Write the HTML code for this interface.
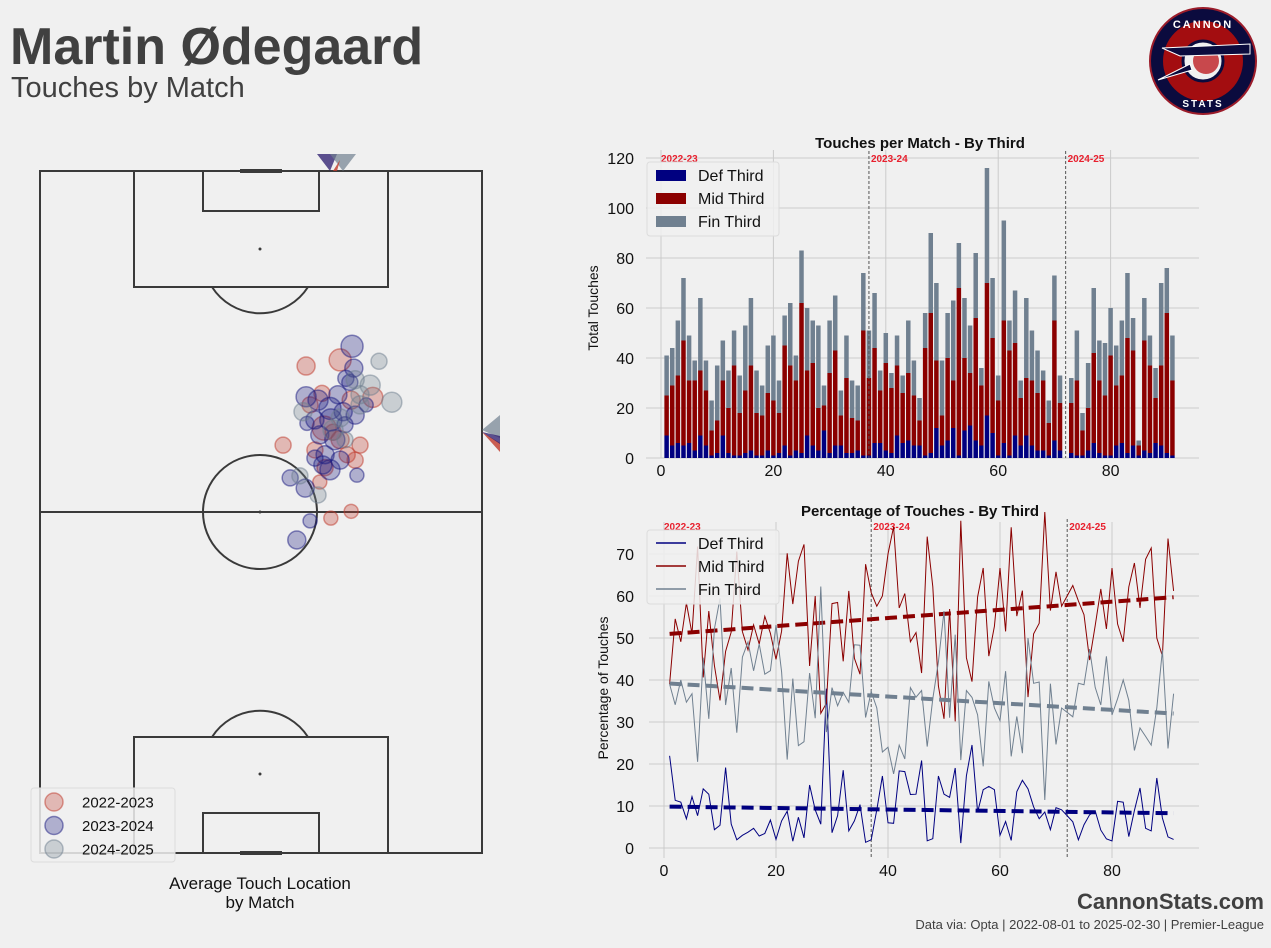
<!DOCTYPE html>
<html><head><meta charset="utf-8">
<style>
html,body{margin:0;padding:0;background:#f0f0f0;}
svg{display:block;font-family:"Liberation Sans","DejaVu Sans",sans-serif;}
</style></head>
<body>
<svg id="fig" width="1271" height="948" viewBox="0 0 1271 948" xmlns="http://www.w3.org/2000/svg">
<rect x="0" y="0" width="1271" height="948" fill="#f0f0f0"/>
<text x="10" y="64" font-size="52" font-weight="bold" fill="#404040">Martin Ødegaard</text>
<text x="11" y="97" font-size="29" fill="#404040">Touches by Match</text>
<g>
<circle cx="1203" cy="61" r="53" fill="#0b0b3e" stroke="#9b1c2a" stroke-width="2"/>
<circle cx="1203" cy="61" r="40" fill="#a30d10"/>
<circle cx="1203" cy="61" r="20" fill="#f0f0f0" stroke="#0b0b3e" stroke-width="3"/>
<circle cx="1206" cy="61" r="13" fill="#c8484c"/>
<path d="M1162 48 L1250 44 L1250 54 L1180 56 Z" fill="#0b0b3e" stroke="#fff" stroke-width="1"/>
<path d="M1158 80 L1190 64 L1192 70 Z" fill="#0b0b3e" stroke="#fff" stroke-width="1"/>
<text x="1203" y="28" font-size="11" font-weight="bold" fill="#fff" text-anchor="middle" letter-spacing="2">CANNON</text>
<text x="1203" y="107" font-size="10" font-weight="bold" fill="#fff" text-anchor="middle" letter-spacing="2">STATS</text>
</g>
<g id="pitch"></g>
<g id="bars"></g>
<g id="pct"></g>
<text x="260" y="889" font-size="17" fill="#111" text-anchor="middle">Average Touch Location</text>
<text x="260" y="908" font-size="17" fill="#111" text-anchor="middle">by Match</text>
<text x="1264" y="909" font-size="22" font-weight="bold" fill="#404040" text-anchor="end">CannonStats.com</text>
<text x="1264" y="929" font-size="13" fill="#404040" text-anchor="end">Data via: Opta | 2022-08-01 to 2025-02-30 | Premier-League</text>
</svg>
<script>
// ---- data ----
const matches=[1,2,3,4,5,6,7,8,9,10,11,12,13,14,15,16,17,18,19,20,21,22,23,24,25,26,27,28,29,30,31,32,33,34,35,36,37,38,39,40,41,42,43,44,45,46,47,48,49,50,51,52,53,54,55,56,57,58,59,60,61,62,63,64,65,66,67,68,69,70,71,73,74,75,76,77,78,79,80,81,82,83,84,85,86,87,88,89,90,91];
const defT=[9,5,6,5,6,3,9,5,1,2,9,2,1,1,2,3,1,1,3,1,2,5,1,3,2,9,5,3,11,2,5,5,2,2,3,1,1,6,6,3,2,9,6,7,5,5,1,2,12,5,7,12,1,11,13,7,5,17,10,1,6,1,9,5,9,5,3,3,1,7,3,2,1,1,3,6,2,1,1,5,6,2,5,1,3,2,6,5,2,1];
const midT=[16,24,27,42,25,28,26,22,10,13,22,18,36,17,25,34,17,16,23,22,16,40,36,28,60,26,33,17,10,32,38,12,30,14,12,50,31,38,21,35,26,28,20,27,20,10,43,56,27,12,33,19,67,29,21,49,24,53,38,22,49,42,37,19,23,26,23,28,13,48,19,20,30,10,17,36,29,24,40,24,27,46,38,4,44,35,18,32,56,30];
const finT=[16,15,22,25,18,8,29,12,12,22,16,15,14,15,26,27,17,12,19,26,13,12,25,10,21,25,17,33,8,21,22,10,17,15,14,23,19,22,8,12,6,12,7,21,14,9,14,32,31,22,18,32,18,24,19,26,7,46,24,10,40,12,21,7,32,20,17,4,9,18,11,10,20,7,18,26,16,21,19,16,22,26,13,2,17,12,12,33,18,18];
const seasonBreaks=[37,72];
const seasonLabels=["2022-23","2023-24","2024-25"];
const barTicksY=[0,20,40,60,80,100,120];
const xTicks=[0,20,40,60,80];
const pctTicksY=[0,10,20,30,40,50,60,70];
const s22x=[60.2,67.9,63.8,75.3,55.0,66.3,72.4,69.5,71.3,64.5,63.3,65.8,70.4,64.3,67.9,62.2,61.1,70.4];
const s22y=[71.4,72.3,67.4,66.8,59.8,61.7,59.8,58.4,57.6,56.5,54.4,49.1,50.1,62.3,60.6,59.1,65.7,66.4];
const s22r=[9,11,8,10,8,8,8,8,8,8,7,7,7,12,9,8,8,9];
const s23x=[70.6,71.0,60.2,62.9,69.2,70.1,65.6,68.6,71.3,60.4,63.3,66.7,64.5,67.9,64.0,71.7,56.6,60.0,58.1,61.1,65.8,62.2,69.0,65.6,62.2,73.8,67.4];
const s23y=[74.3,71.1,66.9,66.4,69.6,69.0,65.2,64.7,64.2,63.0,61.3,60.6,58.4,57.6,56.9,55.4,55.0,53.5,45.9,48.7,63.5,63.5,62.8,56.2,57.9,65.7,67.2];
const s23r=[11,9,10,10,8,8,11,9,9,7,9,10,9,9,9,7,8,9,9,7,11,9,8,10,8,7,9];
const s24x=[76.7,74.7,79.6,71.3,72.4,66.3,67.9,59.5,62.9,72.4,69.0,58.8];
const s24y=[72.1,68.6,66.1,69.4,67.2,62.0,63.8,64.7,52.5,65.7,60.6,55.3];
const s24r=[8,10,10,9,9,10,9,9,8,9,8,8];

const NS="http://www.w3.org/2000/svg";
function mk(parent,tag,attrs){const e=document.createElementNS(NS,tag);for(const k in attrs)e.setAttribute(k,attrs[k]);parent.appendChild(e);return e;}

// ---- pitch ----
const P=document.getElementById('pitch');
const px=x=>40+x*4.42, py=y=>853-y*6.82;
const st={fill:'none',stroke:'#3a3a3a','stroke-width':2};
let e;
e=mk(P,'rect',Object.assign({x:40,y:171,width:442,height:682},st));
e=mk(P,'line',Object.assign({x1:40,y1:512,x2:482,y2:512},st));
e=mk(P,'circle',Object.assign({cx:260,cy:512,r:57},st));
mk(P,'circle',{cx:260,cy:512,r:1.5,fill:'#3a3a3a'});
e=mk(P,'rect',Object.assign({x:134,y:171,width:254,height:116},st));
mk(P,'rect',Object.assign({x:203,y:171,width:116,height:40},st));
mk(P,'path',Object.assign({d:'M212 287 A57 57 0 0 0 308 287'},st));
mk(P,'circle',{cx:260,cy:249,r:1.5,fill:'#3a3a3a'});
e=mk(P,'rect',Object.assign({x:134,y:737,width:254,height:116},st));
mk(P,'rect',Object.assign({x:203,y:813,width:116,height:40},st));
mk(P,'path',Object.assign({d:'M212 737 A57 57 0 0 1 308 737'},st));
mk(P,'circle',{cx:260,cy:774,r:1.5,fill:'#3a3a3a'});
mk(P,'line',{x1:240,y1:171,x2:282,y2:171,stroke:'#3a3a3a','stroke-width':4});
mk(P,'line',{x1:240,y1:853,x2:282,y2:853,stroke:'#3a3a3a','stroke-width':4});
mk(P,'polygon',{points:'317,154 337,154 330,171',fill:'#2a1a6e','fill-opacity':0.75});
mk(P,'polygon',{points:'330,154 356,154 343,171',fill:'#708090','fill-opacity':0.7});
mk(P,'polygon',{points:'333,171 340,160 337,171',fill:'#c0392b','fill-opacity':0.8});
mk(P,'polygon',{points:'482,430 500,415 500,438',fill:'#708090','fill-opacity':0.7});
mk(P,'polygon',{points:'482,432 500,443 500,452',fill:'#c0392b','fill-opacity':0.8});
mk(P,'polygon',{points:'482,432 500,436 500,444',fill:'#2a1a6e','fill-opacity':0.75});
function scatter(xs,ys,rs,col,name){
  for(let i=0;i<xs.length;i++){
    const c=mk(P,'circle',{cx:px(xs[i]),cy:py(ys[i]),r:rs[i],fill:col,'fill-opacity':0.3,stroke:col,'stroke-opacity':0.5,'stroke-width':1.5});
    
    
  }
}
scatter(s22x,s22y,s22r,'#c0392b','point-2022-2023');
scatter(s23x,s23y,s23r,'#1a1a80','point-2023-2024');
scatter(s24x,s24y,s24r,'#708090','point-2024-2025');
const PL=mk(P,'g',{});


mk(PL,'rect',{x:31,y:788,width:144,height:74,rx:3,fill:'#f0f0f0',stroke:'#dcdcdc','fill-opacity':0.85});
[['2022-2023','#c0392b'],['2023-2024','#1a1a80'],['2024-2025','#708090']].forEach((d,i)=>{
  const yy=802+i*23.5;
  mk(PL,'circle',{cx:54,cy:yy,r:9,fill:d[1],'fill-opacity':0.3,stroke:d[1],'stroke-opacity':0.5,'stroke-width':1.5});
  const t=mk(PL,'text',{x:82,y:yy+5.5,'font-size':15,fill:'#111'});t.textContent=d[0];
  
  
});

// ---- bar chart ----
const B=document.getElementById('bars');
const bx=v=>661+v*5.62, by=v=>458-v*2.5;
for(const t of barTicksY){mk(B,'line',{x1:646,x2:1199,y1:by(t),y2:by(t),stroke:'#cbcbcb','stroke-width':1});
  const tx=mk(B,'text',{x:634,y:by(t)+6,'font-size':16,'text-anchor':'end',fill:'#111'});tx.textContent=t;
  }
for(const t of xTicks){mk(B,'line',{x1:bx(t),x2:bx(t),y1:150,y2:458,stroke:'#cbcbcb','stroke-width':1});
  const tx=mk(B,'text',{x:bx(t),y:476,'font-size':16,'text-anchor':'middle',fill:'#111'});tx.textContent=t;
  }
for(let i=0;i<matches.length;i++){
  const m=matches[i],w=0.8*5.62,x0=bx(m)-w/2;
  const d=defT[i],mi=midT[i],f=finT[i];
  let r=mk(B,'rect',{x:x0,y:by(d),width:w,height:by(0)-by(d),fill:'#000080'});
  r=mk(B,'rect',{x:x0,y:by(d+mi),width:w,height:by(d)-by(d+mi),fill:'#8b0000'});
  r=mk(B,'rect',{x:x0,y:by(d+mi+f),width:w,height:by(d+mi)-by(d+mi+f),fill:'#708090'});
}
function seasons(G,sx,top,bot){
  seasonBreaks.forEach(s=>{mk(G,'line',{x1:sx(s),x2:sx(s),y1:top,y2:bot,stroke:'#555','stroke-width':1,'stroke-dasharray':'3,2'});});
  const pos=[sx(0),sx(seasonBreaks[0])+2,sx(seasonBreaks[1])+2];
  seasonLabels.forEach((l,i)=>{const t=mk(G,'text',{x:pos[i],y:top+11,'font-size':10,'font-weight':'bold',fill:'#e8202e'});t.textContent=l;
    });
}
seasons(B,bx,151,458);
let tt=mk(B,'text',{x:920,y:148,'font-size':15,'font-weight':'bold','text-anchor':'middle',fill:'#111'});tt.textContent='Touches per Match - By Third';

tt=mk(B,'text',{x:0,y:0,'font-size':14,'text-anchor':'middle',fill:'#111',transform:'translate(598,308) rotate(-90)'});tt.textContent='Total Touches';

function legend(G,y0,items,bar){
  const L=mk(G,'g',{});
  
  
  mk(L,'rect',{x:647,y:y0,width:132,height:74,rx:3,fill:'#f0f0f0',stroke:'#dcdcdc','fill-opacity':0.85});
  items.forEach((d,i)=>{const yy=y0+13+i*23;
    if(bar)mk(L,'rect',{x:656,y:yy-5,width:30,height:11,fill:d[1]});
    else mk(L,'line',{x1:656,x2:686,y1:yy,y2:yy,stroke:d[1],'stroke-width':1.5});
    const t=mk(L,'text',{x:698,y:yy+6,'font-size':16,fill:'#111'});t.textContent=d[0];
    });
}
const legItems=[['Def Third','#000080'],['Mid Third','#8b0000'],['Fin Third','#708090']];
legend(B,162,legItems,true);

// ---- percentage chart ----
const C=document.getElementById('pct');
const cx=v=>664+v*5.6, cy=v=>848-v*4.2;
for(const t of pctTicksY){mk(C,'line',{x1:649,x2:1199,y1:cy(t),y2:cy(t),stroke:'#cbcbcb','stroke-width':1});
  const tx=mk(C,'text',{x:634,y:cy(t)+6,'font-size':16,'text-anchor':'end',fill:'#111'});tx.textContent=t;
  }
for(const t of xTicks){mk(C,'line',{x1:cx(t),x2:cx(t),y1:522,y2:858,stroke:'#cbcbcb','stroke-width':1});
  const tx=mk(C,'text',{x:cx(t),y:876,'font-size':16,'text-anchor':'middle',fill:'#111'});tx.textContent=t;
  }
seasons(C,cx,519,858);
const pD=[],pM=[],pF=[];
for(let i=0;i<matches.length;i++){const tot=defT[i]+midT[i]+finT[i];pD.push(defT[i]/tot*100);pM.push(midT[i]/tot*100);pF.push(finT[i]/tot*100);}
function series(vals,col,name){
  const d=vals.map((v,i)=>(i?'L':'M')+cx(matches[i]).toFixed(1)+' '+cy(v).toFixed(1)).join(' ');
  const p=mk(C,'path',{d:d,fill:'none',stroke:col,'stroke-width':1});
  
  const n=vals.length;let sx=0,sy=0,sxx=0,sxy=0;
  for(let i=0;i<n;i++){sx+=matches[i];sy+=vals[i];sxx+=matches[i]*matches[i];sxy+=matches[i]*vals[i];}
  const b=(n*sxy-sx*sy)/(n*sxx-sx*sx),a=(sy-b*sx)/n;
  const x1=matches[0],x2=matches[n-1];
  const t=mk(C,'line',{x1:cx(x1),y1:cy(a+b*x1),x2:cx(x2),y2:cy(a+b*x2),stroke:col,'stroke-width':4,'stroke-dasharray':'12,6'});
  
}
series(pD,'#000080','line-def-third');
series(pM,'#8b0000','line-mid-third');
series(pF,'#708090','line-fin-third');
tt=mk(C,'text',{x:920,y:516,'font-size':15,'font-weight':'bold','text-anchor':'middle',fill:'#111'});tt.textContent='Percentage of Touches - By Third';

tt=mk(C,'text',{x:0,y:0,'font-size':14,'text-anchor':'middle',fill:'#111',transform:'translate(608,688) rotate(-90)'});tt.textContent='Percentage of Touches';

legend(C,530,legItems,false);
</script>
</body></html>
